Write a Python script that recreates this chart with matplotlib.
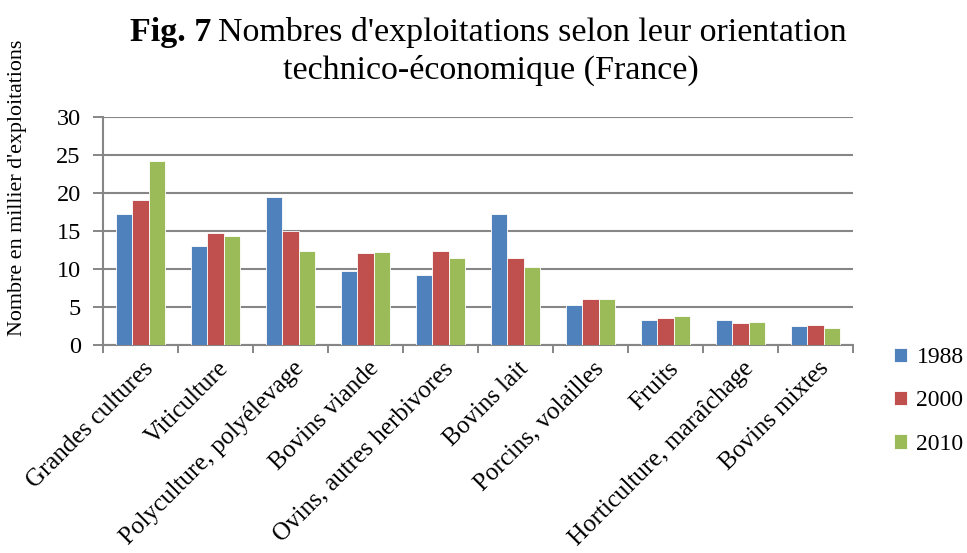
import matplotlib.pyplot as plt
from matplotlib.transforms import ScaledTranslation
import numpy as np

categories = ["Grandes cultures", "Viticulture", "Polyculture, polyélevage",
              "Bovins viande", "Ovins, autres herbivores", "Bovins lait",
              "Porcins, volailles", "Fruits", "Horticulture, maraîchage",
              "Bovins mixtes"]
years = ["1988", "2000", "2010"]
v1988 = [17.2, 13.0, 19.5, 9.7, 9.15, 17.2, 5.3, 3.3, 3.35, 2.45]
v2000 = [19.05, 14.75, 15.05, 12.1, 12.35, 11.4, 6.0, 3.6, 2.9, 2.65]
v2010 = [24.2, 14.3, 12.4, 12.2, 11.4, 10.2, 6.1, 3.85, 3.05, 2.25]
colors = ["#4f81bd", "#c0504d", "#9bbb59"]

plt.rcParams['font.family'] = ['Liberation Serif', 'DejaVu Serif']

fig = plt.figure(figsize=(9.67, 5.53), dpi=100)
ax = fig.add_axes([103 / 967, 1 - 345 / 553, 750 / 967, 228 / 553])

x = np.arange(len(categories))
w = 0.222
for i, (vals, yr) in enumerate(zip([v1988, v2000, v2010], years)):
    ax.bar(x + (i - 1) * w, vals, w, color=colors[i], label=yr,
           edgecolor="white", linewidth=0.6, zorder=3)

ax.set_ylim(0, 30)
ax.set_yticks(range(0, 31, 5))
ax.set_xlim(-0.5, len(categories) - 0.5)
ax.set_xticks(np.arange(-0.5, len(categories)), labels=[])
ax.set_xticks(x, labels=categories, minor=True)
ax.tick_params(axis="x", which="minor", length=0, labelsize=18, pad=9)
ax.tick_params(axis="x", which="major", length=6, color="#868686", width=1.4)
ax.tick_params(axis="y", length=7, color="#868686",
               width=1.4, labelsize=17.5, pad=9)
shift = ScaledTranslation(2 / 100, 0, fig.dpi_scale_trans)
for lbl in ax.get_xticklabels(minor=True):
    lbl.set_rotation(45)
    lbl.set_ha("right")
    lbl.set_rotation_mode("anchor")
    lbl.set_transform(lbl.get_transform() + shift)

ax.grid(axis="y", color="#868686", linewidth=1.5, zorder=0)
ax.set_axisbelow(True)
for s in ["top", "right"]:
    ax.spines[s].set_visible(False)
for s in ["left", "bottom"]:
    ax.spines[s].set_color("#868686")
    ax.spines[s].set_linewidth(1.5)

fig.text(0.018, 1 - 188 / 553, "Nombre en millier d'exploitations",
         rotation=90, ha="center", va="center", fontsize=15.8)

# title: bold "Fig. 7" followed by regular text
t1 = fig.text(130 / 967, 1 - 32 / 553, "Fig. 7", fontsize=24.5,
              fontweight="bold", va="center")
fig.canvas.draw()
bb = t1.get_window_extent()
fig.text(bb.x1 / fig.bbox.width + 0.007, 1 - 32 / 553,
         "Nombres d'exploitations selon leur orientation", fontsize=24.5,
         va="center")
fig.text(491 / 967, 1 - 70 / 553, "technico-économique (France)",
         fontsize=24.5, ha="center", va="center")

fig.legend(loc="upper left", bbox_to_anchor=(894 / 967, 1 - 347 / 553),
           frameon=False, fontsize=17, handlelength=0.55, handleheight=0.55,
           labelspacing=0.95, handletextpad=0.4, borderaxespad=0,
           borderpad=0)

fig.savefig("out.png", dpi=100)
